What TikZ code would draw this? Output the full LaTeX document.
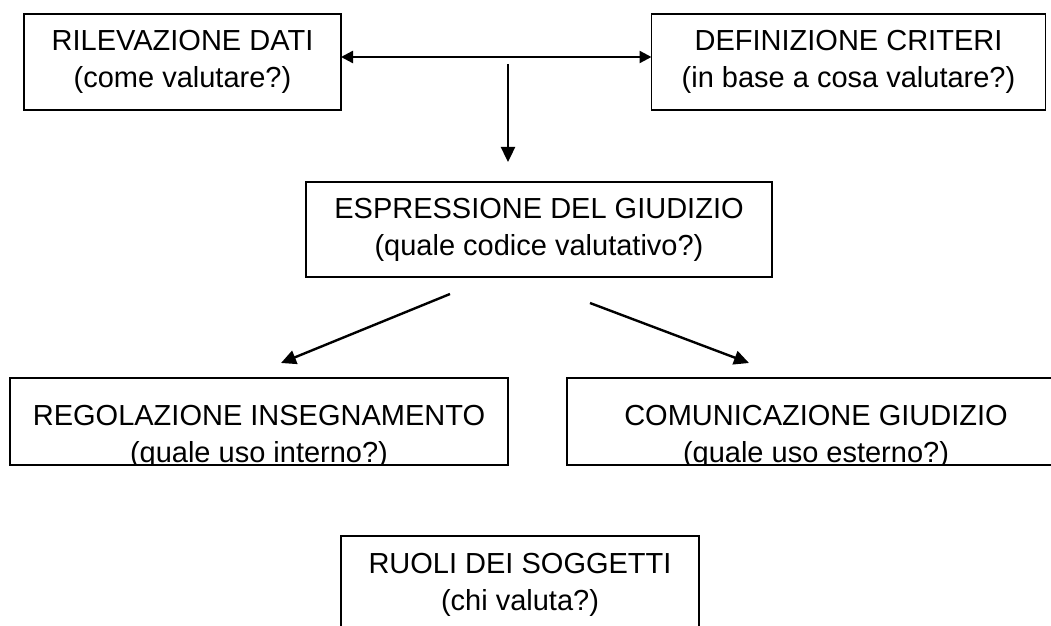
\documentclass[tikz,border=0pt]{standalone}
\usepackage{fontspec}
\setmainfont{Liberation Sans}
\usetikzlibrary{arrows.meta}
\tikzset{box/.style={draw, line width=0.9pt, rectangle, inner sep=0pt, outer sep=0pt, align=center,
    font=\fontsize{14.5}{18.5}\selectfont},
  link/.style={line width=1.2pt, -{Triangle[length=7.5pt,width=7pt]}},
  both/.style={line width=1.2pt, {Triangle[length=6pt,width=6pt]}-{Triangle[length=6pt,width=6pt]}}}

\begin{document}
\begin{tikzpicture}[x=0.5pt, y=-0.5pt]
  \useasboundingbox (0,0) rectangle (1051,626);
  \clip (0,0) rectangle (1051,626);

  \node[box, minimum width=158.5pt, minimum height=48pt] (ril) at (182.5, 62) {RILEVAZIONE DATI\\(come valutare?)};
  \node[box, minimum width=197pt,   minimum height=48pt] (def) at (848.5, 62) {DEFINIZIONE CRITERI\\(in base a cosa valutare?)};
  \node[box, minimum width=233pt,   minimum height=47.5pt] (esp) at (539, 229.5) {ESPRESSIONE DEL GIUDIZIO\\(quale codice valutativo?)};
  \node[box, minimum width=249pt, text height=42pt, text depth=1.5pt] (reg) at (259, 421.5) {REGOLAZIONE INSEGNAMENTO\\(quale uso interno?)};
  \node[box, minimum width=249pt, text height=42pt, text depth=1.5pt] (com) at (816, 421.5) {COMUNICAZIONE GIUDIZIO\\(quale uso esterno?)};
  \node[box, minimum width=179pt, text height=37pt, text depth=35pt]  (ruo) at (520, 608) {RUOLI DEI SOGGETTI\\(chi valuta?)};

  \fill[white] ([yshift=-0.45pt]reg.south west) rectangle ([yshift=-6pt]reg.south east);
  \fill[white] ([yshift=-0.45pt]com.south west) rectangle ([yshift=-6pt]com.south east);

  \coordinate (l1) at (450, 294);
  \coordinate (l2) at (281, 363);
  \coordinate (r1) at (590, 303);
  \coordinate (r2) at (749, 363);

  \draw[both] ([yshift=2.5pt]ril.east) -- ([yshift=2.5pt]def.west);
  \draw[link] ([yshift=59pt]esp.north -| 508,0) -- ([yshift=10pt]esp.north -| 508,0);
  \draw[link] (l1) -- (l2);
  \draw[link] (r1) -- (r2);
\end{tikzpicture}
\end{document}
